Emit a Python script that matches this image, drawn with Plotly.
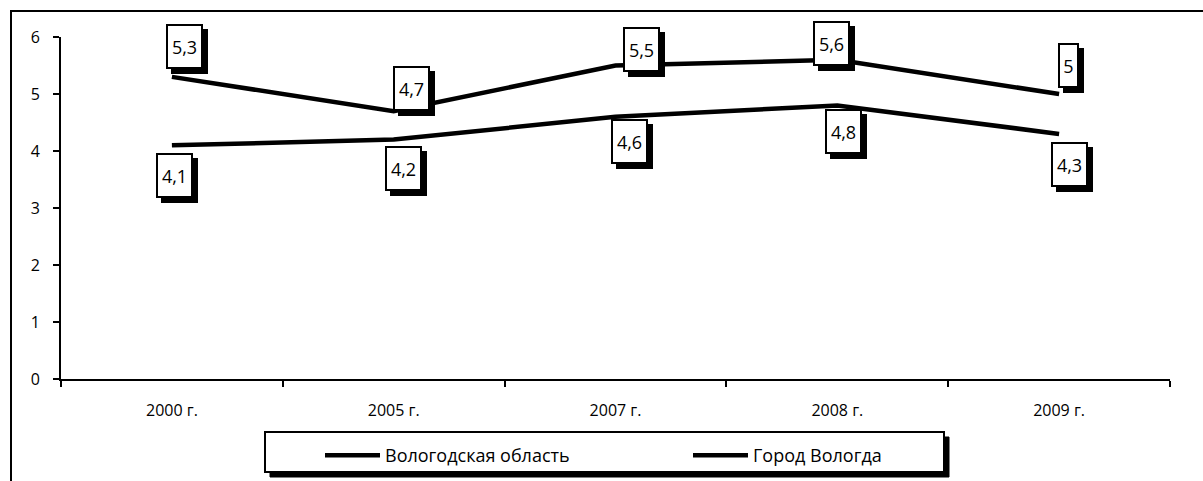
import plotly.graph_objects as go

years = ["2000 г.", "2005 г.", "2007 г.", "2008 г.", "2009 г."]
oblast = [5.3, 4.7, 5.5, 5.6, 5.0]
city = [4.1, 4.2, 4.6, 4.8, 4.3]
series_names = ["Вологодская область", "Город Вологда"]
y_ticks = [0, 1, 2, 3, 4, 5, 6]

# label offsets in pixels (dx, dy) -- styling only
oblast_off = [(13, 30), (18, 23), (26, 16), (-6, 16), (9, 29)]
city_off = [(3, -30), (10, -29), (14, -25), (6, -26), (10, -31)]

W, H = 1203, 481
L, R, T, B = 61, 33, 37, 102
PW = W - L - R
PH = H - T - B

def px(x):
    return (x - L) / PW

def py(y):
    return (H - B - y) / PH

FONT = "Open Sans"

fig = go.Figure()
for name, vals in zip(series_names, [oblast, city]):
    fig.add_trace(go.Scatter(x=years, y=vals, mode="lines", name=name,
                             line=dict(color="black", width=4.5),
                             hoverinfo="skip"))

def fmt(v):
    return ("%g" % v).replace(".", ",")

for vals, offs in [(oblast, oblast_off), (city, city_off)]:
    for xv, yv, (dx, dy) in zip(years, vals, offs):
        t = fmt(yv)
        w = 33 if len(t) > 1 else 17
        common = dict(x=xv, y=yv, xref="x", yref="y", showarrow=False,
                      width=w, height=41, borderwidth=2, borderpad=0,
                      font=dict(family=FONT, size=18, color="black"))
        fig.add_annotation(**common, text=" ", xshift=dx + 5, yshift=dy - 5,
                           bgcolor="black", bordercolor="black")
        fig.add_annotation(**common, text=t, xshift=dx, yshift=dy,
                           bgcolor="white", bordercolor="black")

# outer frame (top and left lines)
fig.add_shape(type="line", xref="paper", yref="paper", x0=px(10), x1=px(1205),
              y0=py(11), y1=py(11), line=dict(color="black", width=2))
fig.add_shape(type="line", xref="paper", yref="paper", x0=px(11), x1=px(11),
              y0=py(10), y1=py(485), line=dict(color="black", width=2))
# legend box with shadow
fig.add_shape(type="rect", xref="paper", yref="paper", x0=px(270), x1=px(949),
              y0=py(437), y1=py(477), fillcolor="black", line=dict(color="black", width=1))
fig.add_shape(type="rect", xref="paper", yref="paper", x0=px(265), x1=px(944),
              y0=py(432), y1=py(472), fillcolor="white", line=dict(color="black", width=2))

fig.update_layout(
    width=W, height=H,
    margin=dict(l=L, r=R, t=T, b=B, pad=0, autoexpand=False),
    paper_bgcolor="white", plot_bgcolor="white",
    font=dict(family=FONT, size=17, color="black"),
    showlegend=True,
    legend=dict(orientation="h", xref="container", yref="container",
                x=320 / W, y=1 - 437 / H, xanchor="left", yanchor="top",
                bgcolor="rgba(0,0,0,0)", borderwidth=0,
                font=dict(family=FONT, size=18, color="black"),
                entrywidth=298, entrywidthmode="pixels", itemwidth=55),
    xaxis=dict(type="category", range=[-0.5, 4.5], showgrid=False, zeroline=False,
               showline=True, linecolor="black", linewidth=2,
               ticks="outside", tickson="boundaries", ticklen=6, tickwidth=2,
               tickcolor="black", ticklabelstandoff=16, fixedrange=True,
               tickfont=dict(family=FONT, size=16)),
    yaxis=dict(range=[0, 6], tickvals=y_ticks, showgrid=False, zeroline=False,
               showline=True, linecolor="black", linewidth=2,
               ticks="outside", ticklen=6, tickwidth=2, tickcolor="black",
               ticklabelstandoff=10, fixedrange=True,
               tickfont=dict(family=FONT, size=16)),
)

fig.write_html("out.html", config={"displayModeBar": False},
               post_script="document.body.style.margin='0px';")
